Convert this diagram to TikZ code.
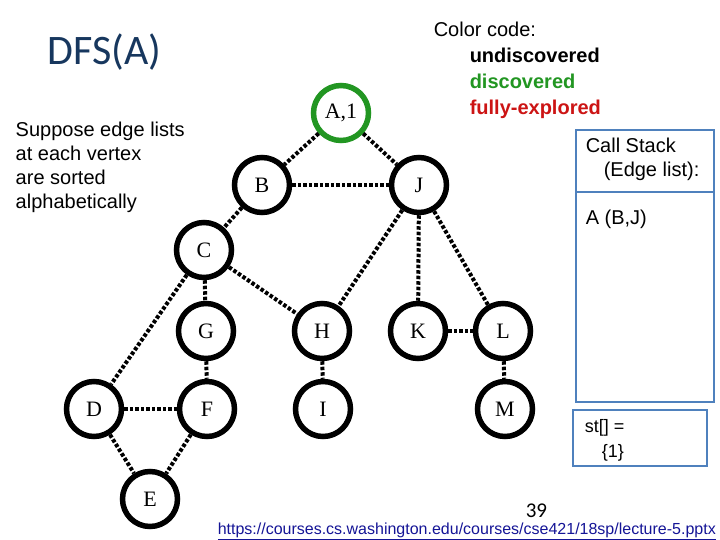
\documentclass[tikz,border=0pt]{standalone}
\usepackage{fontspec}
\setmainfont{Liberation Sans}
\newfontfamily\titlefont{Carlito}
\newfontfamily\vertexfont{Liberation Serif}
\usetikzlibrary{arrows.meta}
\definecolor{navy}{RGB}{23,55,94}
\definecolor{discgreen}{RGB}{34,150,34}
\definecolor{fullred}{RGB}{204,20,20}
\definecolor{boxblue}{RGB}{79,129,189}
\definecolor{urlblue}{RGB}{20,20,150}

\begin{document}
\begin{tikzpicture}[x=1pt, y=-1pt, line width=5.5pt,
    main/.style = {draw, circle, minimum size=55pt, inner sep=0pt, font=\vertexfont\fontsize{22}{24}\selectfont},
    link/.style = {line width=4pt, dash pattern=on 3.5pt off 2pt},
    txt/.style = {anchor=base west, inner sep=0pt, font=\fontsize{20}{24}\selectfont},
    stackbox/.style = {draw=boxblue, line width=2pt}]
    \useasboundingbox (0,0) rectangle (720,540);

    % Nodes
    \node[main, draw=discgreen] (A) at (341,113) {A,1};
    \node[main] (B) at (262,185) {B};
    \node[main] (J) at (419,185) {J};
    \node[main] (C) at (204,250) {C};
    \node[main] (G) at (206,331) {G};
    \node[main] (H) at (322,331) {H};
    \node[main] (K) at (418,331) {K};
    \node[main] (L) at (503,331) {L};
    \node[main] (D) at (94,409) {D};
    \node[main] (F) at (207,409) {F};
    \node[main] (I) at (323,409) {I};
    \node[main] (M) at (505,409) {M};
    \node[main] (E) at (150,499) {E};

    % Edges
    \draw[link] (A) to (B);
    \draw[link] (A) to (J);
    \draw[link] (B) to (J);
    \draw[link] (B) to (C);
    \draw[link] (J) to (H);
    \draw[link] (J) to (K);
    \draw[link] (J) to (L);
    \draw[link] (C) to (G);
    \draw[link] (C) to (H);
    \draw[link] (C) to (D);
    \draw[link] (G) to (F);
    \draw[link] (H) to (I);
    \draw[link] (D) to (F);
    \draw[link] (D) to (E);
    \draw[link] (F) to (E);
    \draw[link] (K) to (L);
    \draw[link] (L) to (M);

    % Texts
    \node[txt, font=\titlefont\fontsize{42}{46}\selectfont, text=navy] (title) at (45,65) {DFS(A)};
    \node[txt] (sup1) at (13,137) {Suppose edge lists};
    \node[txt] (sup2) at (13,161) {at each vertex};
    \node[txt] (sup3) at (13,185) {are sorted};
    \node[txt] (sup4) at (13,209) {alphabetically};
    \node[txt] (code) at (431,37) {Color code:};
    \node[txt, font=\bfseries\fontsize{20}{24}\selectfont] (undisc) at (467,63) {undiscovered};
    \node[txt, font=\bfseries\fontsize{20}{24}\selectfont, text=discgreen] (disc) at (467,89) {discovered};
    \node[txt, font=\bfseries\fontsize{20}{24}\selectfont, text=fullred] (full) at (467,115) {fully-explored};

    % Call stack
    \draw[stackbox] (576,130) rectangle (714,402);
    \draw[stackbox] (576,192) -- (714,192);
    \node[txt] (call1) at (583,153) {Call Stack};
    \node[txt] (call2) at (601,177) {(Edge list):};
    \node[txt] (frameA) at (583,225) {A (B,J)};
    \draw[stackbox] (573,410) rectangle (707,466);
    \node[txt, font=\fontsize{18}{22}\selectfont] (st1) at (582,432) {st[] =};
    \node[txt, font=\fontsize{18}{22}\selectfont] (st2) at (599,457) {\{1\}};

    % Footer
    \node[txt, font=\titlefont\fontsize{21}{24}\selectfont] (page) at (523,517) {39};
    \node[txt, font=\fontsize{16}{18}\selectfont, text=urlblue] (url) at (215,534)
        {\underline{https://courses.cs.washington.edu/courses/cse421/18sp/lecture-5.pptx}};
\end{tikzpicture}
\end{document}
